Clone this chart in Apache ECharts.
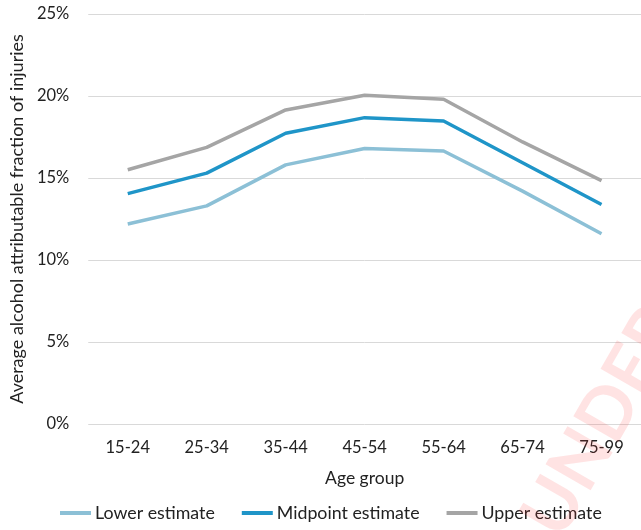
<!DOCTYPE html>
<html>
<head>
<meta charset="utf-8">
<script src="https://cdn.jsdelivr.net/npm/echarts@6/dist/echarts.min.js"></script>
<style>
html,body{margin:0;padding:0;background:#fff;}
#chart{width:641px;height:530px;}
</style>
</head>
<body>
<div id="chart"></div>
<script>
const categories = ['15-24','25-34','35-44','45-54','55-64','65-74','75-99'];
const lowerEstimate = [12.2, 13.3, 15.8, 16.8, 16.65, 14.2, 11.6];
const midpointEstimate = [14.05, 15.3, 17.73, 18.68, 18.48, 15.93, 13.38];
const upperEstimate = [15.5, 16.87, 19.15, 20.04, 19.8, 17.2, 14.84];
const seriesNames = ['Lower estimate','Midpoint estimate','Upper estimate'];
const yTicks = [0, 5, 10, 15, 20, 25];
const xAxisTitle = 'Age group';
const yAxisTitle = 'Average alcohol attributable fraction of injuries';
const watermark = 'UNDER EMBARGO';

const colors = ['#8CC0D6', '#1F95C8', '#A5A5A5'];
const font = 'Lato, "Open Sans", sans-serif';
const chart = echarts.init(document.getElementById('chart'));
const mk = (name, data, color) => ({
  name, type: 'line', data, symbol: 'none', smooth: false,
  lineStyle: {color, width: 3.5}, itemStyle: {color}
});
chart.setOption({
  animation: false,
  textStyle: {fontFamily: font},
  grid: {left: 85, right: -5, top: 14, bottom: 106, containLabel: false},
  legend: {
    bottom: 3, left: 55,
    data: seriesNames,
    icon: 'rect', itemWidth: 31, itemHeight: 4, itemGap: 27,
    textStyle: {fontSize: 17.8, color: '#222', fontFamily: font, padding: [0,0,0,-1]}
  },
  xAxis: {
    type: 'category', data: categories, boundaryGap: true,
    name: xAxisTitle, nameLocation: 'middle', nameGap: 45,
    nameTextStyle: {fontSize: 17.5, color: '#222', fontFamily: font},
    axisLine: {show: false}, axisTick: {show: false},
    axisLabel: {fontSize: 16.5, color: '#222', margin: 15, fontFamily: font}
  },
  yAxis: {
    type: 'value', min: yTicks[0], max: yTicks[yTicks.length-1], interval: yTicks[1]-yTicks[0],
    name: yAxisTitle, nameLocation: 'middle', nameGap: 60,
    nameTextStyle: {fontSize: 18, color: '#222', fontFamily: font},
    axisLine: {show: false}, axisTick: {show: false},
    axisLabel: {fontSize: 16.5, color: '#222', margin: 19, fontFamily: font, formatter: v => v + '%'},
    splitLine: {lineStyle: {color: '#D9D9D9', width: 1}}
  },
  graphic: [{
    type: 'text', x: 572, y: 548, rotation: Math.PI/3, z: 100, silent: true,
    style: {text: watermark, fontSize: 72, fontWeight: 'bold', fontFamily: font,
      fill: 'rgba(255,60,60,0.14)', textAlign: 'left', textVerticalAlign: 'bottom'}
  }],
  series: [
    mk(seriesNames[0], lowerEstimate, colors[0]),
    mk(seriesNames[1], midpointEstimate, colors[1]),
    mk(seriesNames[2], upperEstimate, colors[2])
  ]
});
</script>
</body>
</html>
